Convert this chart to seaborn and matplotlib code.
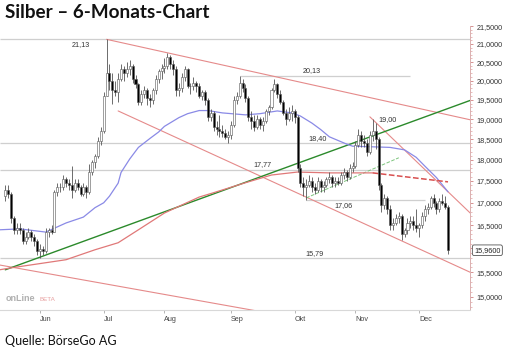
import numpy as np
import pandas as pd
import seaborn as sns
import matplotlib.pyplot as plt
from matplotlib.ticker import FixedLocator, FuncFormatter, NullFormatter

start = '2016-05-16'
opens = [17.15, 17.30, 17.20, 16.65, 16.40,  16.45, 16.40, 16.15, 16.25, 16.35,
         16.25, 16.15, 15.95, 15.98, 15.95,  16.35, 16.40, 16.35, 17.25, 17.35,
         17.35, 17.55, 17.45, 17.40, 17.30,  17.45, 17.35, 17.20, 17.35, 17.25,
         17.70, 17.95, 18.10, 18.45, 18.70,  19.60, 20.20, 20.00, 19.75, 19.70,
         20.05, 20.30, 20.20, 20.30, 20.40,  20.05, 19.90, 19.45, 19.65, 19.75,
         19.55, 19.50, 19.75, 20.05, 20.25,  20.35, 20.40, 20.65, 20.45, 20.30,
         19.75, 19.80, 20.10, 20.30, 19.85,  19.85, 19.95, 19.85, 19.60, 19.70,
         19.50, 19.05, 19.15, 18.80, 18.75,  18.70, 18.65, 18.55, 18.60, 18.85,
         19.50, 19.60, 19.95, 19.80, 19.55,  19.05, 18.95, 18.80, 19.00, 18.85,
         18.95, 19.20, 19.30, 19.75, 19.90,  19.65, 19.45, 19.15, 19.00, 19.15,
         19.20, 19.05, 17.80, 17.45, 17.35,  17.40, 17.50, 17.35, 17.30, 17.50,
         17.35, 17.40, 17.55, 17.60, 17.45,  17.50, 17.45, 17.65, 17.70, 17.60,
         17.80, 17.85, 18.35, 18.60, 18.45,  18.40, 18.20, 18.60, 18.70, 18.50,
         17.40, 16.95, 17.10, 16.85, 16.50,  16.55, 16.65, 16.70, 16.30, 16.40,
         16.55, 16.60, 16.50, 16.45, 16.50,  16.70, 16.85, 16.90, 17.10, 17.00,
         16.85, 17.05, 17.00, 16.90]
highs = [17.40, 17.40, 17.25, 16.70, 16.55,  16.55, 16.45, 16.35, 16.45, 16.40,
         16.30, 16.20, 16.10, 16.05, 16.45,  16.45, 16.50, 17.30, 17.45, 17.45,
         17.65, 17.60, 17.55, 17.85, 17.55,  17.55, 17.40, 17.45, 17.40, 17.90,
         18.00, 18.15, 18.55, 18.80, 19.70,  21.13, 20.45, 20.20, 20.00, 20.20,
         20.45, 20.40, 20.50, 20.55, 20.45,  20.15, 19.95, 19.75, 19.85, 19.80,
         19.65, 19.80, 20.15, 20.30, 20.45,  20.60, 20.75, 20.70, 20.55, 20.40,
         19.95, 20.20, 20.40, 20.35, 19.95,  20.10, 20.00, 19.95, 19.75, 19.75,
         19.55, 19.25, 19.20, 18.95, 19.10,  18.85, 18.75, 18.70, 18.95, 19.60,
         19.70, 20.13, 20.05, 19.90, 19.60,  19.20, 19.10, 19.10, 19.05, 19.05,
         19.25, 19.35, 19.80, 20.05, 19.95,  19.75, 19.50, 19.25, 19.30, 19.35,
         19.25, 19.10, 17.90, 17.60, 17.55,  17.65, 17.60, 17.45, 17.60, 17.55,
         17.50, 17.60, 17.70, 17.65, 17.60,  17.60, 17.70, 17.80, 17.75, 17.90,
         17.95, 18.45, 18.75, 18.70, 18.60,  18.50, 18.70, 19.00, 18.90, 18.55,
         17.45, 17.20, 17.15, 16.95, 16.65,  16.75, 16.80, 16.75, 16.45, 16.65,
         16.70, 16.70, 16.85, 16.55, 16.80,  16.95, 17.00, 17.15, 17.20, 17.05,
         17.10, 17.20, 17.15, 16.95]
lows = [17.05, 17.10, 16.55, 16.30, 16.30,  16.30, 16.10, 16.10, 16.20, 16.15,
        16.05, 15.85, 15.79, 15.85, 15.90,  16.25, 16.30, 16.35, 17.15, 17.25,
        17.30, 17.35, 17.30, 17.10, 17.25,  17.30, 17.15, 17.15, 17.10, 17.20,
        17.65, 17.80, 18.05, 18.35, 18.65,  19.60, 19.75, 19.40, 19.60, 19.45,
        20.00, 20.00, 20.10, 20.15, 19.95,  19.80, 19.35, 19.35, 19.55, 19.35,
        19.30, 19.40, 19.65, 19.95, 20.05,  20.20, 20.30, 20.30, 20.15, 19.60,
        19.60, 19.70, 20.00, 19.80, 19.65,  19.75, 19.70, 19.55, 19.50, 19.35,
        18.95, 18.95, 18.70, 18.60, 18.55,  18.55, 18.50, 18.40, 18.50, 18.80,
        19.40, 19.55, 19.70, 19.45, 18.95,  18.75, 18.70, 18.75, 18.75, 18.70,
        18.90, 19.10, 19.25, 19.70, 19.55,  19.40, 19.10, 18.85, 18.95, 18.95,
        18.90, 17.70, 17.35, 17.15, 17.06,  17.35, 17.25, 17.20, 17.25, 17.25,
        17.25, 17.35, 17.45, 17.35, 17.35,  17.40, 17.40, 17.55, 17.50, 17.55,
        17.70, 17.80, 18.30, 18.30, 18.30,  18.10, 18.15, 18.45, 18.25, 17.30,
        16.80, 16.85, 16.75, 16.40, 16.40,  16.50, 16.55, 16.18, 16.25, 16.30,
        16.45, 16.40, 16.35, 16.25, 16.45,  16.60, 16.75, 16.85, 16.90, 16.75,
        16.80, 16.95, 16.85, 15.88]
closes = [17.30, 17.20, 16.65, 16.40, 16.45,  16.40, 16.15, 16.25, 16.35, 16.25,
          16.15, 15.95, 15.98, 15.95, 16.35,  16.40, 16.35, 17.25, 17.35, 17.35,
          17.55, 17.45, 17.40, 17.30, 17.45,  17.35, 17.20, 17.35, 17.25, 17.70,
          17.95, 18.10, 18.45, 18.70, 19.60,  20.20, 20.00, 19.75, 19.70, 20.05,
          20.30, 20.20, 20.30, 20.40, 20.05,  19.90, 19.45, 19.65, 19.75, 19.55,
          19.50, 19.75, 20.05, 20.25, 20.35,  20.40, 20.65, 20.45, 20.30, 19.75,
          19.80, 20.10, 20.30, 19.85, 19.85,  19.95, 19.85, 19.60, 19.70, 19.50,
          19.05, 19.15, 18.80, 18.75, 18.70,  18.65, 18.55, 18.60, 18.85, 19.50,
          19.60, 19.95, 19.80, 19.55, 19.05,  18.95, 18.80, 19.00, 18.85, 18.95,
          19.20, 19.30, 19.75, 19.90, 19.65,  19.45, 19.15, 19.00, 19.15, 19.20,
          19.05, 17.80, 17.45, 17.35, 17.40,  17.50, 17.35, 17.30, 17.50, 17.35,
          17.40, 17.55, 17.60, 17.45, 17.50,  17.45, 17.65, 17.70, 17.60, 17.80,
          17.85, 18.35, 18.60, 18.45, 18.40,  18.20, 18.60, 18.70, 18.50, 17.40,
          16.95, 17.10, 16.85, 16.50, 16.55,  16.65, 16.70, 16.30, 16.40, 16.55,
          16.60, 16.50, 16.45, 16.50, 16.70,  16.85, 16.90, 17.10, 17.00, 16.85,
          17.05, 17.00, 16.90, 15.96]

# gleitende Durchschnitte
ma_blue_dates = ['2016-05-12', '2016-05-23', '2016-06-03', '2016-06-14', '2016-06-22',
                 '2016-06-28', '2016-07-01', '2016-07-05', '2016-07-08', '2016-07-11',
                 '2016-07-14', '2016-07-19', '2016-07-25', '2016-07-28', '2016-08-01',
                 '2016-08-08', '2016-08-11', '2016-08-17', '2016-08-22', '2016-08-29',
                 '2016-09-08', '2016-09-15', '2016-09-23', '2016-09-30', '2016-10-05',
                 '2016-10-11', '2016-10-14', '2016-10-19', '2016-10-27', '2016-10-31',
                 '2016-11-11', '2016-11-17', '2016-11-24', '2016-11-30', '2016-12-05',
                 '2016-12-09', '2016-12-15']
ma_blue = [16.40, 16.42, 16.35, 16.55, 16.68, 16.89, 17.00, 17.15, 17.45, 17.70,
           18.02, 18.30, 18.52, 18.68, 18.82, 19.04, 19.14, 19.22, 19.22, 19.16,
           19.11, 19.14, 19.21, 19.16, 19.08, 18.90, 18.74, 18.56, 18.38, 18.33,
           18.31, 18.30, 18.24, 18.06, 17.85, 17.58, 17.25]
ma_red_dates = ['2016-05-12', '2016-05-18', '2016-06-14', '2016-06-28', '2016-07-08',
                '2016-07-19', '2016-08-01', '2016-08-08', '2016-08-17', '2016-08-24',
                '2016-09-08', '2016-09-21', '2016-10-04', '2016-10-19', '2016-11-09',
                '2016-12-15']
ma_red = [15.55, 15.59, 15.76, 15.97, 16.12, 16.40, 16.77, 16.92, 17.13, 17.23,
          17.46, 17.64, 17.71, 17.69, 17.69, 17.48]

# Trendlinien (Start, Ende)
green_trend = (['2016-05-16', '2016-12-27'], [15.55, 19.49])
green_short = (['2016-10-07', '2016-11-22'], [17.11, 18.05])
red_upper = (['2016-07-04', '2016-12-27'], [21.13, 18.98])
red_lower = (['2016-07-08', '2016-12-27'], [19.21, 15.49])
red_steep = (['2016-11-08', '2016-12-27'], [19.06, 16.75])
red_bottom = (['2016-05-12', '2016-09-30'], [15.65, 14.60])

# horizontale Marken
levels = [21.13, 20.13, 18.40, 17.77, 17.06, 15.79]
level_from = ['2016-05-12', '2016-09-06', '2016-05-12', '2016-05-12', '2016-10-07', '2016-05-12']
level_to = ['2016-12-27', '2016-11-28', '2016-12-27', '2016-12-27', '2016-12-05', '2016-12-27']
level_label_at = ['2016-06-21', '2016-10-11', '2016-10-13', '2016-09-16', '2016-10-26', '2016-10-12']
level_label_below = [True, False, False, False, True, False]

month_starts = ['2016-06-01', '2016-07-01', '2016-08-01', '2016-09-01',
                '2016-10-03', '2016-11-01', '2016-12-01']
month_labels = ['Jun', 'Jul', 'Aug', 'Sep', 'Okt', 'Nov', 'Dec']


def pos(d):
    return np.busday_count(start, np.datetime64(d, 'D'))


def fmt(v):
    return f"{v:.2f}".replace('.', ',')


def ytick(v, p):
    # 16,0000 liegt unter der Kursbox
    if abs(v - 16.0) < 1e-6:
        return ''
    return f"{v:.4f}".replace('.', ',')


df = pd.DataFrame({'open': opens, 'high': highs, 'low': lows, 'close': closes})
df['x'] = np.arange(len(df))
df['up'] = df['close'] >= df['open']

sns.set_style("white")
plt.rcParams['font.family'] = ['Liberation Sans', 'DejaVu Sans']

fig = plt.figure(figsize=(5.11, 3.58), dpi=100)
ax = fig.add_axes([0, 1 - 310 / 358, 470 / 511, (310 - 26.3) / 358])
ax.set_yscale('log')

# Marken
for lv, a, b, lab, below in zip(levels, level_from, level_to, level_label_at, level_label_below):
    ax.hlines(lv, pos(a), pos(b), color='#cfcfcf', lw=0.9, zorder=1)
    ax.annotate(fmt(lv), (pos(lab), lv), xytext=(0, -1.5 if below else 1), textcoords='offset points',
                ha='center', va='top' if below else 'bottom', fontsize=5.2, color='#333333')
ax.annotate('19,00', (pos('2016-11-16'), 19.0), ha='center', va='center', fontsize=5.2, color='#333333')

# Trendlinien
for (d, v), col, lw, ls in [(red_upper, '#e58a8a', 0.8, '-'), (red_lower, '#e58a8a', 0.8, '-'),
                            (red_steep, '#e58a8a', 0.8, '-'), (red_bottom, '#e58a8a', 0.8, '-'),
                            (green_trend, '#2b8a2b', 1.0, '-'), (green_short, '#7cc47c', 0.7, '--')]:
    sns.lineplot(x=[pos(t) for t in d], y=v, ax=ax, color=col, lw=lw, linestyle=ls, zorder=2)

# Durchschnitte
sns.lineplot(x=[pos(t) for t in ma_blue_dates], y=ma_blue, ax=ax, color='#8a8ae6', lw=0.9, zorder=2)
sns.lineplot(x=[pos(t) for t in ma_red_dates[:-1]], y=ma_red[:-1], ax=ax, color='#e07878', lw=0.9, zorder=2)
sns.lineplot(x=[pos(t) for t in ma_red_dates[-2:]], y=ma_red[-2:], ax=ax, color='#d85050', lw=1.1,
             linestyle='--', zorder=2)

# Kerzen
ax.vlines(df['x'], df['low'], df['high'], color='#555555', lw=0.6, zorder=3)
body_lo = df[['open', 'close']].min(axis=1)
body_h = (df['close'] - df['open']).abs().clip(lower=0.02)
ax.bar(df['x'], body_h, bottom=body_lo, width=0.7,
       color=np.where(df['up'], 'white', 'black'), edgecolor='#555555', lw=0.4, zorder=4)

ax.set_xlim(-1.83, 160.6)
ax.set_ylim(14.74, 21.5)

ax.yaxis.tick_right()
ax.yaxis.set_major_locator(FixedLocator(np.arange(15.0, 21.51, 0.5)))
ax.yaxis.set_major_formatter(FuncFormatter(ytick))
ax.yaxis.set_minor_locator(FixedLocator(np.arange(14.8, 21.5, 0.1)))
ax.yaxis.set_minor_formatter(NullFormatter())
ax.tick_params(axis='y', which='major', labelsize=5.2, labelcolor='#333333', color='#d08080',
               length=2.5, width=0.6, pad=2, right=True)
ax.tick_params(axis='y', which='minor', color='#e0a0a0', length=1.5, width=0.5, right=True)

ax.set_xticks([pos(d) for d in month_starts])
ax.set_xticklabels(month_labels, ha='left')
ax.tick_params(axis='x', labelsize=5.2, labelcolor='#444444', color='#aaaaaa', length=2.5,
               width=0.6, pad=2, bottom=True)

for s in ['top', 'left']:
    ax.spines[s].set_visible(False)
ax.spines['bottom'].set_color('#d8d8d8')
ax.spines['right'].set_color('#dab0b0')
ax.spines['right'].set_linewidth(0.7)
ax.set_xlabel('')
ax.set_ylabel('')

# aktueller Kurs
ax.annotate(f"{closes[-1]:.4f}".replace('.', ','), xy=(1, closes[-1]), xycoords=('axes fraction', 'data'),
            xytext=(3, 0), textcoords='offset points', ha='left', va='center', fontsize=5.2,
            color='#222222', annotation_clip=False,
            bbox=dict(boxstyle='round,pad=0.25', fc='white', ec='#555555', lw=0.6))

# Logo
ax.text(0.011, 0.03, 'onLine', transform=ax.transAxes, fontsize=6.5, fontweight='bold', color='#b0b0b0')
ax.text(0.085, 0.03, 'BETA', transform=ax.transAxes, fontsize=4.5, color='#e8a0a0')

fig.text(5 / 511, 1 - 12 / 358, 'Silber – 6-Monats-Chart', fontsize=13.6, fontweight='bold',
         family=['Lato', 'DejaVu Sans'], va='center', color='#111111')
fig.text(5 / 511, 1 - 341 / 358, 'Quelle: BörseGo AG', fontsize=9, family=['Lato', 'DejaVu Sans'],
         va='center', color='#111111')

fig.savefig('out.png', dpi=100)
